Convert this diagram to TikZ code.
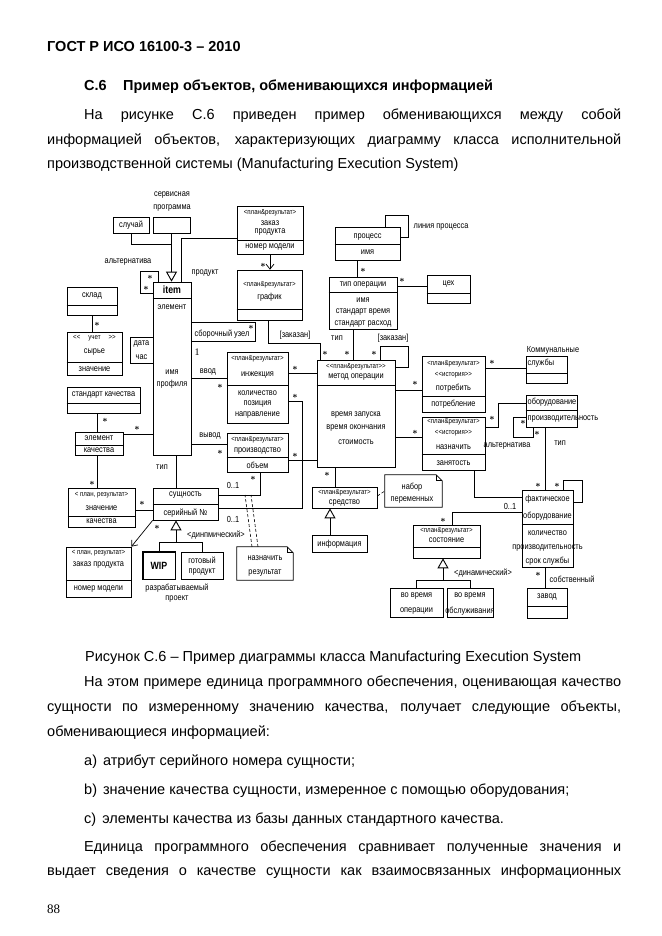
\documentclass[tikz,border=0pt]{standalone}
\usepackage{fontspec}
\setmainfont{Liberation Sans}
\newfontfamily\numfont{Liberation Serif}
\newfontfamily\dgfam{Liberation Sans}[FakeStretch=0.84]
\usetikzlibrary{arrows.meta, fit}

\newcommand{\dgfont}{\dgfam\fontsize{8.8}{9}\selectfont}
\newcommand{\stfont}{\dgfam\fontsize{7.3}{8}\selectfont}
\newcommand{\bodyfont}{\fontsize{14.5}{18}\selectfont}

% class box from two corners, and a divider inside it
\newcommand{\umlbox}[5]{\node[cls, fit={(#2,#3) (#4,#5)}] (#1) {};}
\newcommand{\hdiv}[2]{\draw[assoc] (#1.west |- 0,#2) -- (#1.east |- 0,#2);}
% note with folded corner
\newcommand{\notebox}[5]{%
  \node[fit={(#2,#3) (#4,#5)}, inner sep=0pt] (#1) {};
  \draw[assoc] (#1.north west) -- ([xshift=-6pt]#1.north east) -- ([yshift=-6pt]#1.north east) -- (#1.south east) -- (#1.south west) -- cycle;
  \draw[assoc] ([xshift=-6pt]#1.north east) |- ([yshift=-6pt]#1.north east);}

\begin{document}
\begin{tikzpicture}[
    x=1pt, y=-1pt,
    cls/.style={draw, line width=0.7pt, inner sep=0pt},
    dg/.style={font=\dgfont, inner sep=0.5pt},
    st/.style={font=\stfont, inner sep=0.5pt},
    mult/.style={font=\fontsize{9}{9}\selectfont\boldmath, inner sep=0pt},
    assoc/.style={line width=0.7pt},
    gen/.style={line width=0.7pt, -{Triangle[open, length=10pt, width=11pt, line width=0.9pt]}},
    nav/.style={line width=0.7pt, -{Straight Barb[length=5pt, width=8pt]}},
    anchorline/.style={line width=0.6pt, dash pattern=on 3pt off 2pt},
    body/.style={font=\bodyfont, inner sep=0pt, anchor=base west}
]
\useasboundingbox (0,0) rectangle (661,936);

% page head
\node[body, font=\bodyfont\bfseries] (gost) at (47,52) {ГОСТ Р ИСО 16100-3 – 2010};
\node[body, font=\bodyfont\bfseries] (secnum) at (84,91) {С.6};
\node[body, font=\bodyfont\bfseries] (sectitle) at (123,91) {Пример объектов, обменивающихся информацией};
\node[body] (intro1) at (84,120) {\hbox to 537pt{На рисунке С.6 приведен пример обменивающихся между собой}};
\node[body] (intro2) at (47,145) {\hbox to 574pt{информацией объектов, характеризующих диаграмму класса исполнительной}};
\node[body] (intro3) at (47,169) {производственной системы (Manufacturing Execution System)};

% left column classes
\umlbox{sluchai}{113}{217}{149}{233}
\node[dg] (sluchai-t) at (131,225) {случай};
\umlbox{servis}{153}{217}{190}{233}
\node[dg] (servis-t1) at (172,195) {сервисная};
\node[dg] (servis-t2) at (172,208) {программа};

\umlbox{item}{153}{282}{191}{455}
\hdiv{item}{298}
\node[dg, font=\dgfam\fontsize{10.5}{10}\selectfont\bfseries] (item-t) at (172,290) {item};
\node[dg] (item-a1) at (172,307) {элемент};
\node[dg] (item-a2) at (172,372) {имя};
\node[dg] (item-a3) at (172,384) {профиля};

\umlbox{sklad}{67}{287}{117}{315}
\hdiv{sklad}{305}
\node[dg] (sklad-t) at (92,296) {склад};

\umlbox{uchet}{67}{332}{122}{375}
\node[st] (uchet-s) at (94.5,338) {<<\hspace{8pt}учет\hspace{8pt}>>};
\node[dg] (uchet-t) at (94.5,352) {сырье};
\hdiv{uchet}{362}
\node[dg] (uchet-a) at (94.5,369) {значение};

\umlbox{datachas}{130}{337}{153}{363}
\node[dg] (datachas-t1) at (141.5,344) {дата};
\node[dg] (datachas-t2) at (141.5,357) {час};

\umlbox{stdq}{67}{387}{140}{413}
\node[dg] (stdq-t) at (103.5,395) {стандарт качества};
\hdiv{stdq}{403}

\umlbox{elq}{75}{432}{123}{455}
\node[dg] (elq-t1) at (99,438) {элемент};
\hdiv{elq}{445}
\node[dg] (elq-t2) at (99,450) {качества};

\umlbox{znach}{68}{488}{135}{527}
\node[st] (znach-s) at (101.5,495) {< план, результат>};
\node[dg] (znach-t) at (101.5,508) {значение};
\hdiv{znach}{516}
\node[dg] (znach-a) at (101.5,521.5) {качества};

\umlbox{sush}{153}{488}{218}{520}
\node[dg] (sush-t) at (185.5,495.5) {сущность};
\hdiv{sush}{504}
\node[dg] (sush-a) at (185.5,513) {серийный №};

\umlbox{zakaz2}{66}{547}{131}{597}
\node[st] (zakaz2-s) at (98.5,553) {< план, результат>};
\node[dg] (zakaz2-t) at (98.5,565) {заказ продукта};
\hdiv{zakaz2}{580}
\node[dg] (zakaz2-a) at (98.5,589) {номер модели};

\umlbox{wip}{143}{552}{175}{579}
\draw[line width=1.4pt] (wip.north west) rectangle (wip.south east);
\node[dg, font=\dgfam\fontsize{10.5}{10}\selectfont\bfseries] (wip-t) at (159,566) {WIP};
\umlbox{gotov}{181}{552}{223}{579}
\node[dg] (gotov-t1) at (202,560) {готовый};
\node[dg] (gotov-t2) at (202,572) {продукт};
\node[dg] (razr-t1) at (177,588) {разрабатываемый};
\node[dg] (razr-t2) at (177,599) {проект};

% middle classes
\umlbox{zakaz1}{237}{206}{303}{254}
\node[st] (zakaz1-s) at (270,213) {<план\&результат>};
\node[dg] (zakaz1-t1) at (270,223) {заказ};
\node[dg] (zakaz1-t2) at (270,232) {продукта};
\hdiv{zakaz1}{240}
\node[dg] (zakaz1-a) at (270,247) {номер модели};

\umlbox{grafik}{237}{270}{302}{320}
\node[st] (grafik-s) at (269.5,285) {<план\&результат>};
\node[dg] (grafik-t) at (269.5,297) {график};
\hdiv{grafik}{309}

\umlbox{inj}{227}{352}{288}{423}
\node[st] (inj-s) at (257.5,359) {<план\&результат>};
\node[dg] (inj-t) at (257.5,375) {инжекция};
\hdiv{inj}{385}
\node[dg] (inj-a1) at (257.5,393) {количество};
\node[dg] (inj-a2) at (257.5,404) {позиция};
\node[dg] (inj-a3) at (257.5,415) {направление};

\umlbox{proizv}{227}{433}{288}{472}
\node[st] (proizv-s) at (257.5,440) {<план\&результат>};
\node[dg] (proizv-t) at (257.5,451) {производство};
\hdiv{proizv}{457}
\node[dg] (proizv-a) at (257.5,465) {объем};

\notebox{naznote}{237}{547}{293}{580}
\node[dg] (naznote-t1) at (265,558) {назначить};
\node[dg] (naznote-t2) at (265,573) {результат};

\umlbox{process}{335}{227}{400}{260}
\node[dg] (process-t) at (367.5,237) {процесс};
\hdiv{process}{244}
\node[dg] (process-a) at (367.5,252) {имя};

\umlbox{tipop}{329}{277}{397}{329}
\node[dg] (tipop-t) at (363,285) {тип операции};
\hdiv{tipop}{292}
\node[dg] (tipop-a1) at (363,300) {имя};
\node[dg] (tipop-a2) at (363,312) {стандарт время};
\node[dg] (tipop-a3) at (363,324) {стандарт расход};

\umlbox{tseh}{427}{275}{470}{303}
\node[dg] (tseh-t) at (448.5,284) {цех};
\hdiv{tseh}{293}

\umlbox{metod}{317}{360}{395}{467}
\node[st] (metod-s) at (356,367) {<<план\&результат>>};
\node[dg] (metod-t) at (356,377) {метод операции};
\hdiv{metod}{385}
\node[dg] (metod-a1) at (356,415) {время запуска};
\node[dg] (metod-a2) at (356,428) {время окончания};
\node[dg] (metod-a3) at (356,442) {стоимость};

\umlbox{sredstvo}{312}{487}{377}{508}
\node[st] (sredstvo-s) at (344.5,493) {<план\&результат>};
\node[dg] (sredstvo-t) at (344.5,503) {средство};

\umlbox{info}{312}{535}{367}{552}
\node[dg] (info-t) at (339.5,544) {информация};

\notebox{nabor}{385}{475}{442}{507}
\node[dg] (nabor-t1) at (412,487) {набор};
\node[dg] (nabor-t2) at (412,500) {переменных};

% right column classes
\umlbox{potreb}{422}{356}{485}{412}
\node[st] (potreb-s) at (453.5,364) {<план\&результат>};
\node[st] (potreb-s2) at (453.5,375) {<<история>>};
\node[dg] (potreb-t) at (453.5,388) {потребить};
\hdiv{potreb}{396}
\node[dg] (potreb-a) at (453.5,404) {потребление};

\umlbox{komm}{526}{356}{567}{383}
\node[dg] (komm-t1) at (553,350) {Коммунальные};
\node[dg, anchor=west] (komm-t2) at (527,363) {службы};
\hdiv{komm}{373}

\umlbox{nazn}{422}{417}{485}{470}
\node[st] (nazn-s) at (453.5,422) {<план\&результат>};
\node[st] (nazn-s2) at (453.5,433) {<<история>>};
\node[dg] (nazn-t) at (453.5,447) {назначить};
\hdiv{nazn}{454}
\node[dg] (nazn-a) at (453.5,463) {занятость};

\umlbox{obor}{526}{395}{577}{427}
\node[dg, anchor=west] (obor-t) at (527,402) {оборудование};
\hdiv{obor}{410}
\node[dg, anchor=west] (obor-a) at (527,419) {производительность};

\umlbox{fakt}{522}{490}{573}{567}
\node[dg] (fakt-t1) at (547.5,499) {фактическое};
\node[dg] (fakt-t2) at (547.5,516) {оборудование};
\hdiv{fakt}{524}
\node[dg] (fakt-a1) at (547.5,533) {количество};
\node[dg] (fakt-a2) at (547.5,548) {производительность};
\node[dg] (fakt-a3) at (547.5,561) {срок службы};

\umlbox{sost}{413}{525}{480}{558}
\node[st] (sost-s) at (446.5,531) {<план\&результат>};
\node[dg] (sost-t) at (446.5,540) {состояние};
\hdiv{sost}{547}

\umlbox{voper}{390}{588}{443}{617}
\node[dg] (voper-t1) at (416.5,596) {во время};
\node[dg] (voper-t2) at (416.5,611) {операции};
\umlbox{vobsl}{447}{588}{493}{617}
\node[dg] (vobsl-t1) at (470,596) {во время};
\node[dg] (vobsl-t2) at (470,611) {обслуживания};

\umlbox{zavod}{527}{588}{567}{618}
\node[dg] (zavod-t) at (547,597) {завод};
\hdiv{zavod}{606}

% join points
\coordinate (servis-join) at (172,244);
\coordinate (sush-gen) at (176,542);
\coordinate (sost-gen) at (443,580);
\coordinate (naz-up1) at (245,495);
\coordinate (naz-up2) at (251,495);

% connectors, left part
\draw[assoc] (sluchai.south) |- (servis-join);
\draw[gen] (servis.south) -- (item.north -| servis.south);
\draw[assoc] (item.north -| 181,0) |- (zakaz1.west |- 0,238);
\draw[assoc] (item.north -| 158,0) |- (140,271) |- (item.west |- 0,293);
\draw[assoc] (sklad.south) -- (sklad.south |- uchet.north);
\draw[assoc] (stdq.south -| 97,0) -- (elq.north -| 97,0);
\draw[assoc] (elq.east |- 0,434) -- (item.west |- 0,434);
\draw[assoc] (elq.south -| 97,0) -- (znach.north -| 97,0);
\draw[assoc] (znach.east |- 0,510) -- (sush.west |- 0,510);
\draw[assoc] (item.south -| 176,0) -- (sush.north -| 176,0);
\draw[nav] (sush.south west) -- (zakaz2.north east);
\draw[assoc] (gotov.north) |- (sush-gen);
\draw[gen] (wip.north) |- (sush-gen) -- (sush.south -| sush-gen);

% connectors, middle part
\draw[nav] (zakaz1.south -| 270,0) -- (grafik.north -| 270,0);
\draw[assoc] (item.east |- 0,322) -| (255,341) -- (item.east |- 0,341);
\draw[assoc] (grafik.south -| 268,0) |- (320,343) -- (metod.north -| 320,0);
\draw[assoc] (tipop.south -| 353,0) -- (metod.north -| 353,0);
\draw[assoc] (metod.north -| 380,0) |- (408,346) |- (metod.east |- 0,367);
\draw[assoc] (process.south -| 357,0) -- (tipop.north -| 357,0);
\draw[assoc] (process.north -| 385,0) |- (408,215) |- (process.east |- 0,237);
\draw[assoc] (tipop.east |- 0,286) -- (tseh.west |- 0,286);
\draw[assoc] (item.east |- 0,378) -- (inj.west |- 0,378);
\draw[assoc] (inj.east |- 0,373) -- (metod.west |- 0,373);
\draw[assoc] (inj.east |- 0,401) -| (302,508) -- (sush.east |- 0,508);
\draw[assoc] (item.east |- 0,444) -- (proizv.west |- 0,444);
\draw[assoc] (proizv.east |- 0,460) -- (metod.west |- 0,460);
\draw[assoc] (proizv.south -| 260,0) |- (sush.east |- 0,495);
\draw[anchorline] (naznote.north -| 252,0) -- (naz-up1);
\draw[anchorline] (naznote.north -| 258,0) -- (naz-up2);
\draw[assoc] (metod.south -| 335,0) -- (sredstvo.north -| 335,0);
\draw[gen] (info.north -| 330,0) -- (sredstvo.south -| 330,0);
\draw[anchorline] (sredstvo.east |- 0,496) -- (nabor.west |- 0,491);

% connectors, right part
\draw[assoc] (metod.east |- 0,390) -- (potreb.west |- 0,390);
\draw[assoc] (metod.east |- 0,437) -- (nazn.west |- 0,437);
\draw[assoc] (potreb.east |- 0,368) -- (komm.west |- 0,368);
\draw[assoc] (nazn.east |- 0,427) -| (498,403) -- (obor.west |- 0,403);
\draw[assoc] (obor.west |- 0,417) -| (513,437) -| (obor.south -| 533,0);
\draw[assoc] (obor.south -| 545,0) -- (fakt.north -| 545,0);
\draw[assoc] (fakt.north -| 563,0) |- (582,480) |- (fakt.east |- 0,502);
\draw[assoc] (nazn.south -| 474,0) |- (fakt.west |- 0,497);
\draw[assoc] (fakt.west |- 0,512) -| (sost.north -| 452,0);
\draw[assoc] (vobsl.north) |- (sost-gen);
\draw[gen] (voper.north) |- (sost-gen) -- (sost.south -| sost-gen);
\draw[assoc] (fakt.south -| 545,0) -- (zavod.north -| 545,0);

% multiplicities
\node[mult] (m-sklad) at (97,324) {$\ast$};
\node[mult] (m-alt1) at (150,277) {$\ast$};
\node[mult] (m-alt2) at (146,288) {$\ast$};
\node[mult] (m-stdq) at (105,420) {$\ast$};
\node[mult] (m-elq1) at (137,428) {$\ast$};
\node[mult] (m-elq2) at (92,483) {$\ast$};
\node[mult] (m-znach) at (142,503) {$\ast$};
\node[mult] (m-sush) at (157,527) {$\ast$};
\node[mult] (m-zakaz) at (263,265) {$\ast$};
\node[mult] (m-sbor) at (251,327) {$\ast$};
\node[mult] (m-grafik) at (325,353) {$\ast$};
\node[mult] (m-tip) at (347,353) {$\ast$};
\node[mult] (m-zkz) at (374,353) {$\ast$};
\node[mult] (m-proc) at (363,270) {$\ast$};
\node[mult] (m-tseh) at (402,280) {$\ast$};
\node[mult] (m-inj1) at (220,386) {$\ast$};
\node[mult] (m-inj2) at (295,368) {$\ast$};
\node[mult] (m-inj3) at (295,396) {$\ast$};
\node[mult] (m-pr1) at (220,452) {$\ast$};
\node[mult] (m-pr2) at (295,455) {$\ast$};
\node[mult] (m-pr3) at (253,478) {$\ast$};
\node[mult] (m-sred) at (327,474) {$\ast$};
\node[mult] (m-potr1) at (415,383) {$\ast$};
\node[mult] (m-nazn1) at (415,432) {$\ast$};
\node[mult] (m-potr2) at (492,362) {$\ast$};
\node[mult] (m-nazn2) at (492,418) {$\ast$};
\node[mult] (m-obor1) at (523,422) {$\ast$};
\node[mult] (m-obor2) at (537,433) {$\ast$};
\node[mult] (m-fakt1) at (538,485) {$\ast$};
\node[mult] (m-fakt2) at (557,485) {$\ast$};
\node[mult] (m-sost) at (443,520) {$\ast$};
\node[mult] (m-zavod) at (538,574) {$\ast$};

% role names and other labels
\node[dg] (l-alt) at (128,262) {альтернатива};
\node[dg] (l-prod) at (205,273) {продукт};
\node[dg] (l-sbor) at (222,334) {сборочный узел};
\node[dg, font=\numfont\fontsize{10}{10}\selectfont] (l-one) at (197,352) {1};
\node[dg] (l-zak1) at (295,335) {[заказан]};
\node[dg] (l-tip1) at (337,338) {тип};
\node[dg] (l-zak2) at (393,338) {[заказан]};
\node[dg, anchor=west] (l-line) at (413,227) {линия процесса};
\node[dg] (l-vvod) at (208,372) {ввод};
\node[dg] (l-vyvod) at (210,436) {вывод};
\node[dg] (l-tip2) at (162,467) {тип};
\node[dg] (l-zo1) at (233,485) {0..1};
\node[dg] (l-zo2) at (233,519) {0..1};
\node[dg] (l-din1) at (216,535) {<динпмический>};
\node[dg] (l-alt2) at (507,446) {альтернатива};
\node[dg] (l-tip3) at (560,443) {тип};
\node[dg] (l-zo3) at (510,506) {0..1};
\node[dg] (l-din2) at (483,573) {<динамический>};
\node[dg, anchor=west] (l-sobst) at (549,579) {собственный};

% caption and text below
\node[body] (caption) at (85,661) {Рисунок С.6 – Пример диаграммы класса Manufacturing Execution System};
\node[body] (para1a) at (84,686) {\hbox to 537pt{На этом примере единица программного обеспечения, оценивающая качество}};
\node[body] (para1b) at (47,711) {\hbox to 574pt{сущности по измеренному значению качества, получает следующие объекты,}};
\node[body] (para1c) at (47,736) {обменивающиеся информацией:};
\node[body] (item-a) at (84,765) {a)\hspace{6pt}атрибут серийного номера сущности;};
\node[body] (item-b) at (84,794) {b)\hspace{6pt}значение качества сущности, измеренное с помощью оборудования;};
\node[body] (item-c) at (84,823) {c)\hspace{6pt}элементы качества из базы данных стандартного качества.};
\node[body] (para2a) at (84,851) {\hbox to 537pt{Единица программного обеспечения сравнивает полученные значения и}};
\node[body] (para2b) at (47,875) {\hbox to 574pt{выдает сведения о качестве сущности как взаимосвязанных информационных}};
\node[body, font=\numfont\fontsize{13}{15}\selectfont] (pagenum) at (47,913) {88};

\end{tikzpicture}
\end{document}
